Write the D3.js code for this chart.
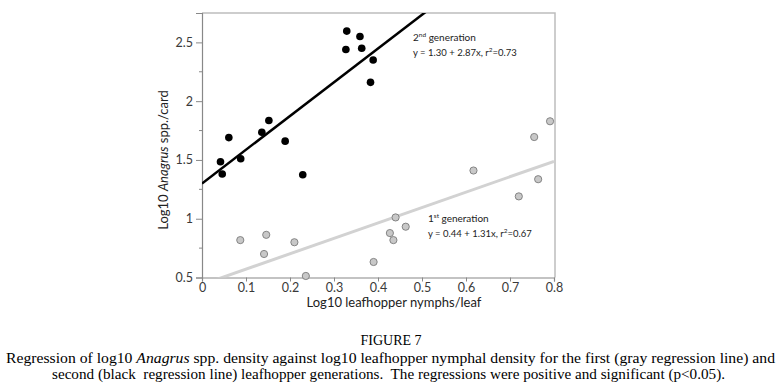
<!DOCTYPE html>
<html>
<head>
<meta charset="utf-8">
<script src="https://cdn.jsdelivr.net/npm/d3@7"></script>
<style>
  body { margin: 0; background: #fff; }
  svg { display: block; }
  .tick text { font-family: Lato, "Open Sans", sans-serif; font-size: 12.5px; fill: #3a3a3a; }
</style>
</head>
<body>
<div id="chart"></div>
<script>
// 1st generation (gray) points
var gen1X = [0.087, 0.146, 0.141, 0.210, 0.236, 0.390, 0.427, 0.435, 0.440, 0.463, 0.617, 0.720, 0.764, 0.755, 0.791];
var gen1Y = [0.818, 0.863, 0.700, 0.800, 0.513, 0.632, 0.878, 0.818, 1.011, 0.932, 1.410, 1.190, 1.336, 1.695, 1.829];

// 2nd generation (black) points
var gen2X = [0.329, 0.359, 0.327, 0.363, 0.389, 0.383, 0.152, 0.136, 0.189, 0.061, 0.042, 0.046, 0.088, 0.229];
var gen2Y = [2.596, 2.550, 2.440, 2.450, 2.350, 2.160, 1.835, 1.735, 1.660, 1.690, 1.485, 1.380, 1.510, 1.374];

// regression fits: intercept, slope
var fit1 = [0.44, 1.31];
var fit2 = [1.30, 2.87];

var xTicks = [0, 0.1, 0.2, 0.3, 0.4, 0.5, 0.6, 0.7, 0.8];
var yTicks = [0.5, 1, 1.5, 2, 2.5];
var yMinor = [0.75, 1.25, 1.75, 2.25];

var W = 783, H = 392;
var pLeft = 202, pRight = 554, pTop = 13, pBottom = 277.5;

var svg = d3.select("#chart").append("svg")
    .attr("width", W)
    .attr("height", H);

var x = d3.scaleLinear().domain([0, 0.8]).range([pLeft, pRight]);
var y = d3.scaleLinear().domain([0.5, 2.75]).range([pBottom, pTop]);

// frame (top and right edges)
svg.append("path")
    .attr("d", "M" + pLeft + "," + pTop + "H" + (pRight + 1) + "V" + pBottom)
    .attr("fill", "none")
    .attr("stroke", "#bdbdbd")
    .attr("stroke-width", 1.5);

// minor y ticks
svg.append("g").selectAll("line")
    .data(yMinor)
    .enter()
    .append("line")
    .attr("x1", pLeft - 3)
    .attr("x2", pLeft)
    .attr("y1", function(d) { return y(d); })
    .attr("y2", function(d) { return y(d); })
    .attr("stroke", "#888");

// axes
var xAxis = d3.axisBottom(x).tickValues(xTicks).tickSize(4).tickPadding(2)
    .tickFormat(function(d) { return d === 0 ? "0" : d3.format(".1f")(d); });
svg.append("g")
    .attr("transform", "translate(0," + pBottom + ")")
    .call(xAxis);

var yAxis = d3.axisLeft(y).tickValues(yTicks).tickSize(6).tickPadding(3)
    .tickFormat(function(d) { return d % 1 === 0 ? d3.format("d")(d) : d3.format(".1f")(d); });
svg.append("g")
    .attr("transform", "translate(" + pLeft + ",0)")
    .call(yAxis);

svg.selectAll(".domain").attr("stroke", "#888").attr("stroke-width", 1.2);
svg.selectAll(".tick line").attr("stroke", "#888");

// clip region for regression lines
svg.append("clipPath").attr("id", "plotclip")
    .append("rect")
    .attr("x", pLeft).attr("y", pTop)
    .attr("width", pRight - pLeft).attr("height", pBottom - pTop);

var line = d3.line()
    .x(function(d) { return x(d[0]); })
    .y(function(d) { return y(d[1]); });

function fitPts(f) {
    return [[0, f[0]], [0.8, f[0] + f[1] * 0.8]];
}

svg.append("path")
    .datum(fitPts(fit1))
    .attr("clip-path", "url(#plotclip)")
    .attr("d", line)
    .attr("stroke", "#d2d2d2")
    .attr("stroke-width", 3)
    .attr("fill", "none");

svg.append("path")
    .datum(fitPts(fit2))
    .attr("clip-path", "url(#plotclip)")
    .attr("d", line)
    .attr("stroke", "#000")
    .attr("stroke-width", 2.5)
    .attr("fill", "none");

// points
svg.append("g").selectAll("circle")
    .data(d3.range(gen1X.length))
    .enter()
    .append("circle")
    .attr("cx", function(i) { return x(gen1X[i]); })
    .attr("cy", function(i) { return y(gen1Y[i]); })
    .attr("r", 3.6)
    .attr("fill", "#c8c8c8")
    .attr("stroke", "#7a7a7a")
    .attr("stroke-width", 0.9);

svg.append("g").selectAll("circle")
    .data(d3.range(gen2X.length))
    .enter()
    .append("circle")
    .attr("cx", function(i) { return x(gen2X[i]); })
    .attr("cy", function(i) { return y(gen2Y[i]); })
    .attr("r", 3.8)
    .attr("fill", "#000");

// annotations
function annot(px, py, num, sup, eq, r2) {
    var t1 = svg.append("text")
        .attr("x", px).attr("y", py)
        .attr("font-family", "Lato, 'Open Sans', sans-serif")
        .attr("font-size", 10)
        .attr("fill", "#222");
    t1.append("tspan").text(num);
    t1.append("tspan").attr("font-size", 6.5).attr("dy", -4).text(sup);
    t1.append("tspan").attr("dy", 4).text(" generation");

    var t2 = svg.append("text")
        .attr("x", px).attr("y", py + 15)
        .attr("font-family", "Lato, 'Open Sans', sans-serif")
        .attr("font-size", 9.5)
        .attr("fill", "#222");
    t2.append("tspan").text(eq + ", r");
    t2.append("tspan").attr("font-size", 6.5).attr("dy", -4).text("2");
    t2.append("tspan").attr("dy", 4).text("=" + r2);
}
annot(413, 41, "2", "nd", "y = 1.30 + 2.87x", "0.73");
annot(428, 222, "1", "st", "y = 0.44 + 1.31x", "0.67");

// axis titles
svg.append("text")
    .attr("x", 394)
    .attr("y", 307)
    .attr("text-anchor", "middle")
    .attr("font-family", "Lato, 'Open Sans', sans-serif")
    .attr("font-size", 13)
    .attr("fill", "#222")
    .text("Log10 leafhopper nymphs/leaf");

var yt = svg.append("text")
    .attr("transform", "translate(168,160) rotate(-90)")
    .attr("text-anchor", "middle")
    .attr("font-family", "Lato, 'Open Sans', sans-serif")
    .attr("font-size", 13)
    .attr("fill", "#222");
yt.append("tspan").text("Log10 ");
yt.append("tspan").attr("font-style", "italic").text("Anagrus");
yt.append("tspan").text(" spp./card");

// caption
var serif = "'Liberation Serif', 'Times New Roman', serif";
svg.append("text")
    .attr("x", 391).attr("y", 345)
    .attr("text-anchor", "middle")
    .attr("font-family", serif)
    .attr("font-size", 14)
    .attr("fill", "#000")
    .text("FIGURE 7");

var c1 = svg.append("text")
    .attr("x", 6).attr("y", 363)
    .attr("font-family", serif)
    .attr("font-size", 14.5)
    .attr("textLength", 769)
    .attr("lengthAdjust", "spacingAndGlyphs")
    .attr("fill", "#000");
c1.append("tspan").text("Regression of log10 ");
c1.append("tspan").attr("font-style", "italic").text("Anagrus");
c1.append("tspan").text(" spp. density against log10 leafhopper nymphal density for the first (gray regression line) and");

svg.append("text")
    .attr("x", 52).attr("y", 379)
    .attr("font-family", serif)
    .attr("font-size", 14.5)
    .attr("textLength", 673)
    .attr("lengthAdjust", "spacingAndGlyphs")
    .attr("fill", "#000")
    .attr("xml:space", "preserve")
    .text("second (black  regression line) leafhopper generations.  The regressions were positive and significant (p<0.05).");
</script>
</body>
</html>
